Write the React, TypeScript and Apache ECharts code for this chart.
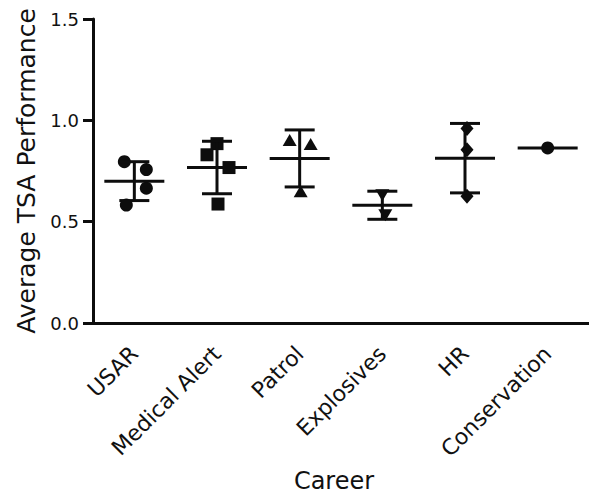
import React, { useEffect, useRef } from "react";
import * as echarts from "echarts";

const categories = ["USAR", "Medical Alert", "Patrol", "Explosives", "HR", "Conservation"];
const usar = [0.796, 0.757, 0.665, 0.582];
const medicalAlert = [0.885, 0.83, 0.767, 0.587];
const patrol = [0.903, 0.883, 0.65];
const explosives = [0.63, 0.532];
const hr = [0.96, 0.855, 0.625];
const conservation = [0.864];
const yTicks = [0, 0.5, 1.0, 1.5];

// horizontal jitter of the points, in pixels (style only)
const jitterUsar = [-10, 12, 12, -8];
const jitterMedical = [0, -10, 12, 1];
const jitterPatrol = [-10, 11, 1];
const jitterExplosives = [0, 3];
const jitterHr = [2, 2, 2];
const jitterConservation = [0];

const groups = [usar, medicalAlert, patrol, explosives, hr, conservation];
const jitters = [jitterUsar, jitterMedical, jitterPatrol, jitterExplosives, jitterHr, jitterConservation];
const symbols = ["circle", "rect", "triangle", "triangle", "diamond", "circle"];
const symbolRotates = [0, 0, 0, 180, 0, 0];
const symbolSizes: any[] = [13, 13, [14, 12], [14, 12], [13, 15], 13];

const INK = "#0d0d0d";
const TEXT = "#111";
const FONT = "DejaVu Sans";

function meanSd(arr: number[]) {
  const m = arr.reduce((a, b) => a + b, 0) / arr.length;
  if (arr.length < 2) return [m, 0];
  const v = arr.reduce((a, b) => a + (b - m) * (b - m), 0) / (arr.length - 1);
  return [m, Math.sqrt(v)];
}

export default function App() {
  const ref = useRef<HTMLDivElement>(null);
  useEffect(() => {
    if (!ref.current) return;
    const chart = echarts.init(ref.current, null, { renderer: "svg" });
    const scatterSeries = groups.map((g, gi) => ({
      type: "scatter",
      name: categories[gi],
      symbol: symbols[gi],
      symbolRotate: symbolRotates[gi],
      symbolSize: symbolSizes[gi],
      itemStyle: { color: INK, opacity: 1 },
      z: 2,
      data: g.map((v, k) => ({ value: [gi, v], symbolOffset: [jitters[gi][k], 0] })),
    }));
    const statsData = groups.map((g, gi) => {
      const [m, s] = meanSd(g);
      return [gi, m, s];
    });
    const option: any = {
      animation: false,
      grid: { left: 93, top: 19, width: 498, height: 309, containLabel: false },
      xAxis: {
        type: "category",
        data: categories,
        boundaryGap: true,
        name: "Career",
        nameLocation: "middle",
        nameGap: 146,
        nameTextStyle: { fontFamily: FONT, fontSize: 24, color: TEXT, padding: [0, 14, 0, 0] },
        axisLine: { lineStyle: { color: INK, width: 3 } },
        axisTick: { alignWithLabel: true, length: 10, lineStyle: { color: INK, width: 3 } },
        axisLabel: {
          rotate: 45,
          interval: 0,
          margin: 27,
          fontFamily: FONT,
          fontSize: 22,
          color: TEXT,
        },
        splitLine: { show: false },
      },
      yAxis: {
        type: "value",
        min: 0,
        max: 1.5,
        interval: 0.5,
        name: "Average TSA Performance",
        nameLocation: "middle",
        nameGap: 46,
        nameTextStyle: { fontFamily: FONT, fontSize: 25, color: TEXT },
        axisLine: { show: true, lineStyle: { color: INK, width: 3 } },
        axisTick: { show: true, length: 10, lineStyle: { color: INK, width: 3 } },
        axisLabel: {
          margin: 14,
          fontFamily: FONT,
          fontSize: 18,
          color: TEXT,
          formatter: (v: number) => (yTicks.includes(v) ? v.toFixed(1) : ""),
        },
        splitLine: { show: false },
      },
      series: [
        ...scatterSeries,
        {
          type: "custom",
          z: 5,
          clip: false,
          data: statsData,
          renderItem: (params: any, api: any) => {
            const i = api.value(0);
            const m = api.value(1);
            const s = api.value(2);
            const c = api.coord([i, m]);
            const style = { stroke: INK, lineWidth: 3, fill: null };
            const children: any[] = [
              { type: "line", shape: { x1: c[0] - 30, y1: c[1], x2: c[0] + 30, y2: c[1] }, style },
            ];
            if (s > 0) {
              const t = api.coord([i, m + s]);
              const b = api.coord([i, m - s]);
              children.push(
                { type: "line", shape: { x1: c[0], y1: t[1], x2: c[0], y2: b[1] }, style },
                { type: "line", shape: { x1: c[0] - 15, y1: t[1], x2: c[0] + 15, y2: t[1] }, style },
                { type: "line", shape: { x1: c[0] - 15, y1: b[1], x2: c[0] + 15, y2: b[1] }, style }
              );
            }
            return { type: "group", children };
          },
        },
      ],
    };
    chart.setOption(option);
    return () => chart.dispose();
  }, []);
  return (
    <div
      ref={ref}
      style={{ position: "fixed", left: 0, top: 0, width: 589, height: 498, background: "#fff" }}
    />
  );
}
